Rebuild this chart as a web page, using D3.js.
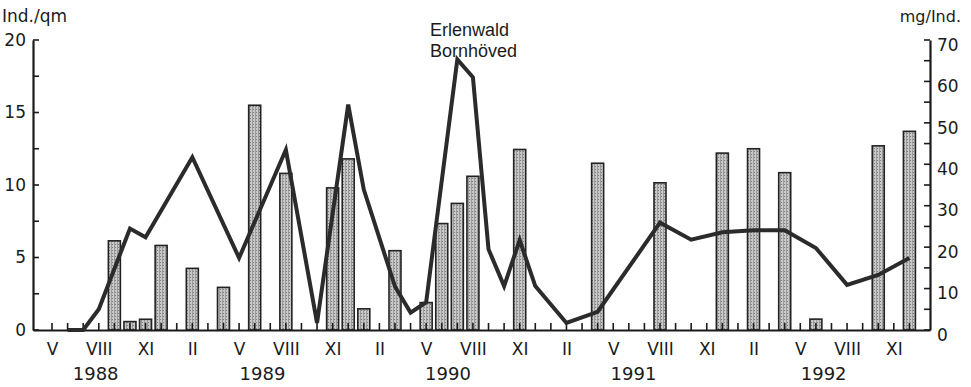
<!DOCTYPE html>
<html>
<head>
<meta charset="utf-8">
<script src="https://cdnjs.cloudflare.com/ajax/libs/d3/7.8.5/d3.min.js"></script>
<style>
  body { margin: 0; background: #fff; }
  svg text { font-family: "DejaVu Sans", sans-serif; fill: #1b1b1b; }
</style>
</head>
<body>
<svg id="chart"></svg>
<script>
// bars: Ind./qm (left axis)
const barMonths = ["1988-09","1988-10","1988-11","1988-12","1989-02","1989-04","1989-06","1989-08",
  "1989-11","1989-12","1990-01","1990-03","1990-05","1990-06","1990-07","1990-08","1990-11",
  "1991-04","1991-08","1991-12","1992-02","1992-04","1992-06","1992-10","1992-12"];
const barValues = [6.15, 0.58, 0.74, 5.83, 4.25, 2.94, 15.5, 10.8, 9.8, 11.8, 1.46, 5.47, 1.89,
  7.34, 8.73, 10.6, 12.45, 11.5, 10.15, 12.2, 12.5, 10.85, 0.75, 12.7, 13.7];

// line: mg/Ind. (right axis)
const lineMonths = ["1988-06","1988-07","1988-08","1988-10","1988-11","1989-02","1989-05","1989-08",
  "1989-10","1989-12","1990-01","1990-03","1990-04","1990-05","1990-07","1990-08","1990-09",
  "1990-10","1990-11","1990-12","1991-02","1991-04","1991-08","1991-10","1991-12","1992-02",
  "1992-04","1992-06","1992-08","1992-10","1992-12"];
const lineValues = [0, 0, 5, 24.5, 22.4, 41.7, 17.4, 43.5, 1.7, 54.4, 33.9, 10.5, 4.2, 6.7, 65.3,
  61.0, 19.5, 10.6, 21.7, 10.6, 1.7, 4.4, 25.9, 21.8, 23.6, 24.1, 24.1, 19.8, 10.9, 13.3, 17.4];

const romanNames = ["I","II","III","IV","V","VI","VII","VIII","IX","X","XI","XII"];
const labelledMonths = [2, 5, 8, 11];
const years = ["1988","1989","1990","1991","1992"];
const yearLabelAt = [6.8, 17.5, 29.4, 41.3, 53.5]; // months after Jan 1988
const leftTicks = d3.range(0, 20.1, 2.5);
const rightTicks = d3.range(0, 71, 5);
const monthTicks = d3.range(4, 60);

// month index counted from Jan 1988
const monthIndex = s => {
  const [y, m] = s.split("-").map(Number);
  return (y - 1988) * 12 + (m - 1);
};

const width = 971, height = 387;
const plotLeft = 33, plotRight = 930, plotTop = 40, plotBottom = 330;
const ink = "#1b1b1b";

const svg = d3.select("#chart").attr("width", width).attr("height", height);

const defs = svg.append("defs");
const pat = defs.append("pattern").attr("id", "stipple")
  .attr("width", 3).attr("height", 3).attr("patternUnits", "userSpaceOnUse");
pat.append("rect").attr("width", 3).attr("height", 3).attr("fill", "#c9c9c9");
pat.append("rect").attr("width", 1).attr("height", 3).attr("fill", "#9a9a9a");
pat.append("rect").attr("x", 1).attr("y", 1).attr("width", 1).attr("height", 1).attr("fill", "#7d7d7d");

const x = d3.scaleLinear().domain([2.78, 60.32]).range([plotLeft, plotRight]);
const yL = d3.scaleLinear().domain([0, 20]).range([plotBottom, plotTop]);
const yR = d3.scaleLinear().domain([0, 70]).range([plotBottom, plotTop]);

const barW = 12;
svg.append("g").selectAll("rect")
  .data(barMonths.map((m, i) => ({ m: monthIndex(m), v: barValues[i] })))
  .join("rect")
  .attr("x", d => x(d.m) - barW / 2)
  .attr("y", d => yL(d.v))
  .attr("width", barW)
  .attr("height", d => yL(0) - yL(d.v))
  .attr("fill", "url(#stipple)")
  .attr("stroke", "#222")
  .attr("stroke-width", 1.6);

// tick marks pointing into the plot, placed with the scales
const tickG = svg.append("g").attr("stroke", ink).attr("stroke-width", 1.6);
tickG.selectAll(".mt").data(monthTicks).join("path").attr("class", "mt")
  .attr("d", d => `M${x(d)},${plotBottom}V${plotBottom - 7}`);
tickG.selectAll(".lt").data(leftTicks).join("path").attr("class", "lt")
  .attr("d", d => `M${plotLeft},${yL(d)}H${plotLeft + 6}`);
tickG.selectAll(".rt").data(rightTicks).join("path").attr("class", "rt")
  .attr("d", d => `M${plotRight},${yR(d)}H${plotRight - 6}`);

// axes (labels and axis lines)
const xAxis = d3.axisBottom(x)
  .tickValues(monthTicks)
  .tickSize(0).tickPadding(13)
  .tickFormat(d => {
    const mo = (d % 12) + 1;
    return labelledMonths.includes(mo) ? romanNames[mo - 1] : "";
  });
const gx = svg.append("g").attr("transform", `translate(0,${plotBottom})`).call(xAxis);
gx.selectAll("text").style("font-size", "17px");

const gl = svg.append("g").attr("transform", `translate(${plotLeft},0)`)
  .call(d3.axisLeft(yL).tickValues(leftTicks).tickSize(0).tickPadding(7)
    .tickFormat(d => d % 5 === 0 ? d : ""));
gl.selectAll("text").style("font-size", "17px");

const gr = svg.append("g").attr("transform", `translate(${plotRight},0)`)
  .call(d3.axisRight(yR).tickValues(rightTicks).tickSize(0).tickPadding(7)
    .tickFormat(d => d % 10 === 0 ? d : ""));
gr.selectAll("text").style("font-size", "17px").attr("dy", "0.6em");

svg.selectAll(".domain").attr("stroke", ink).attr("stroke-width", 2.2);

// line drawn over bars and ticks
const line = d3.line().x(d => x(d.m)).y(d => yR(d.v));
svg.append("path")
  .datum(lineMonths.map((m, i) => ({ m: monthIndex(m), v: lineValues[i] })))
  .attr("d", line)
  .attr("fill", "none")
  .attr("stroke", "#2b2b2b")
  .attr("stroke-width", 4)
  .attr("stroke-linejoin", "miter");

// year labels
svg.append("g").selectAll("text").data(years).join("text")
  .attr("x", (d, i) => x(yearLabelAt[i]))
  .attr("y", 380)
  .attr("text-anchor", "middle")
  .style("font-size", "18px")
  .text(d => d);

// axis titles
svg.append("text").attr("x", 2).attr("y", 22).style("font-size", "17px").text("Ind./qm");
svg.append("text").attr("x", 961).attr("y", 22).attr("text-anchor", "end")
  .style("font-size", "16px").text("mg/Ind.");

// site label
const site = svg.append("text").attr("x", 430)
  .style("font-family", "'Liberation Sans', Arial, sans-serif").style("font-size", "18px");
site.append("tspan").attr("x", 430).attr("y", 36).text("Erlenwald");
site.append("tspan").attr("x", 430).attr("y", 57).text("Bornhöved");
</script>
</body>
</html>
